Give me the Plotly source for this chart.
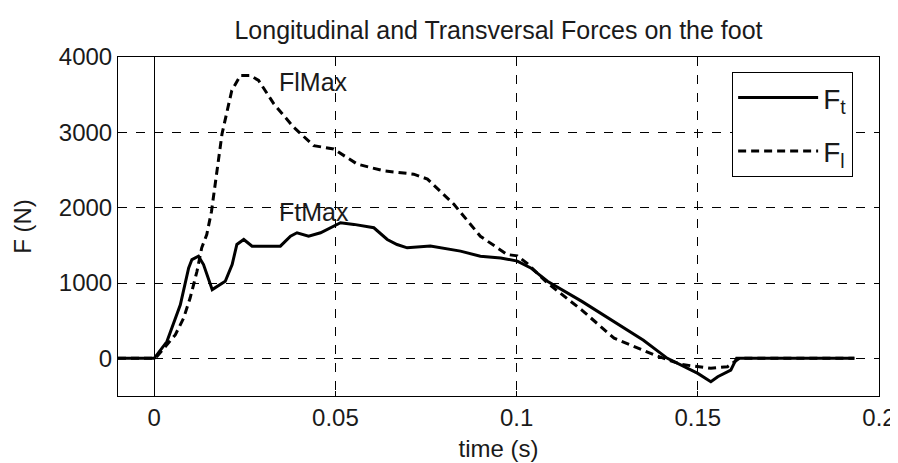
import plotly.graph_objects as go

# Transversal force F_t (solid)
t_ft = [-0.01, 0.0, 0.0035, 0.0072, 0.0095, 0.0104, 0.0122, 0.0136, 0.016, 0.0196,
        0.0215, 0.0228, 0.0247, 0.027, 0.0348, 0.0376, 0.0394, 0.0426, 0.0459, 0.0495,
        0.0514, 0.0551, 0.0606, 0.0643, 0.067, 0.0698, 0.0762, 0.0845, 0.09, 0.0956,
        0.1002, 0.1039, 0.1085, 0.118, 0.1269, 0.135, 0.1416, 0.1444, 0.15, 0.1536,
        0.1555, 0.1591, 0.1605, 0.1607, 0.1932]
f_ft = [0, 0, 222, 711, 1200, 1311, 1356, 1245, 912, 1022,
        1245, 1512, 1578, 1489, 1489, 1622, 1667, 1622, 1667, 1756,
        1800, 1778, 1733, 1578, 1511, 1467, 1490, 1423, 1356, 1333,
        1290, 1200, 1023, 756, 489, 240, 0, -67, -200, -311,
        -244, -156, -22, 0, 0]

# Longitudinal force F_l (dashed)
t_fl = [-0.01, 0.0, 0.0007, 0.0035, 0.0058, 0.0081, 0.0099, 0.0118, 0.0131, 0.0145,
        0.0158, 0.0187, 0.0214, 0.0238, 0.0265, 0.0288, 0.033, 0.0385, 0.044, 0.0495,
        0.056, 0.0633, 0.0716, 0.0754, 0.0827, 0.09, 0.0974, 0.1002, 0.1029, 0.1085,
        0.118, 0.1269, 0.138, 0.1453, 0.15, 0.1536, 0.1582, 0.16, 0.1615, 0.1932]
f_fl = [0, 0, 22, 178, 311, 533, 800, 1156, 1467, 1644,
        1950, 2978, 3556, 3756, 3756, 3689, 3378, 3067, 2823, 2779,
        2579, 2489, 2445, 2379, 2045, 1620, 1378, 1360, 1260, 1000,
        640, 267, 45, -80, -111, -133, -111, -44, 0, 0]

x_ticks = [0, 0.05, 0.1, 0.15, 0.2]
x_tick_labels = ["0", "0.05", "0.1", "0.15", "0.2"]
y_ticks = [0, 1000, 2000, 3000, 4000]
y_tick_labels = ["0", "1000", "2000", "3000", "4000"]

peak_labels = ["FlMax", "FtMax"]
peak_t = [0.034, 0.034]
peak_f = [3662, 1943]

FONT = "Liberation Sans, Arial, sans-serif"
TXT = "#1a1a1a"

W, H = 890, 455  # page body has an 8px margin
L, R, T, B = 110, 19, 49, 67

fig = go.Figure()
fig.add_trace(go.Scatter(x=t_ft, y=f_ft, mode="lines", name="F<sub>t</sub>",
                         legendgroup="a",
                         line=dict(color="black", width=3)))
fig.add_trace(go.Scatter(x=t_fl, y=f_fl, mode="lines", name="F<sub>l</sub>",
                         legendgroup="b",
                         line=dict(color="black", width=3, dash="8px,5px")))

for lab, tx, fy in zip(peak_labels, peak_t, peak_f):
    fig.add_annotation(x=tx, y=fy, text=lab, showarrow=False, xanchor="left",
                       yanchor="middle", font=dict(size=25, color=TXT, family=FONT))

fig.update_layout(
    width=W, height=H,
    margin=dict(l=L, r=R, t=T, b=B),
    paper_bgcolor="white", plot_bgcolor="white",
    font=dict(family=FONT, color=TXT, size=24),
    title=dict(text="Longitudinal and Transversal Forces on the foot",
               x=(L + (W - R)) / 2 / W, xanchor="center", y=1 - 22 / H, yanchor="middle",
               font=dict(size=25, color=TXT, family=FONT)),
    showlegend=True,
    legend=dict(x=0.807, y=0.956, xanchor="left", yanchor="top",
                bgcolor="white", bordercolor="black", borderwidth=1,
                font=dict(size=28, color=TXT, family=FONT),
                itemwidth=80, tracegroupgap=14),
    xaxis=dict(range=[-0.01, 0.2], tickvals=x_ticks, ticktext=x_tick_labels,
               automargin=False, ticklabeloverflow="allow",
               showgrid=True, gridcolor="black", griddash="dash", gridwidth=1,
               zeroline=True, zerolinecolor="black", zerolinewidth=1,
               showline=True, linecolor="black", linewidth=1, mirror="ticks",
               ticks="inside", ticklen=5, tickcolor="black",
               tickfont=dict(size=24),
               title=dict(text="time (s)", font=dict(size=24), standoff=10)),
    yaxis=dict(range=[-500, 4000], tickvals=y_ticks, ticktext=y_tick_labels,
               automargin=False, ticklabeloverflow="allow",
               showgrid=True, gridcolor="black", griddash="dash", gridwidth=1,
               zeroline=False,
               showline=True, linecolor="black", linewidth=1, mirror="ticks",
               ticks="inside", ticklen=5, tickcolor="black",
               tickfont=dict(size=24),
               title=dict(text="F (N)", font=dict(size=24), standoff=20)),
)

fig.write_html("out.html")
